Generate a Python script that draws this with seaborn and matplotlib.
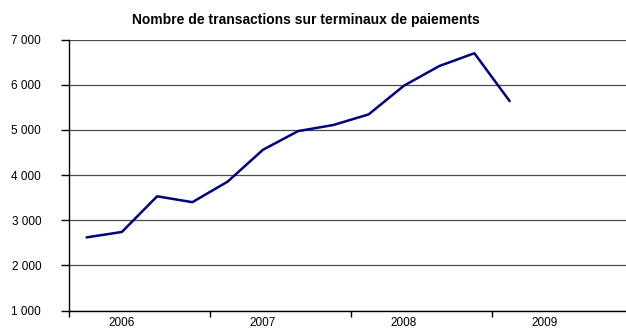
import matplotlib
matplotlib.use("Agg")
import matplotlib.pyplot as plt
import matplotlib.ticker as mticker
import seaborn as sns
import pandas as pd

# Quarterly number of card terminal transactions
years = ["2006", "2007", "2008", "2009"]
quarters = ["T1 2006", "T2 2006", "T3 2006", "T4 2006",
            "T1 2007", "T2 2007", "T3 2007", "T4 2007",
            "T1 2008", "T2 2008", "T3 2008", "T4 2008",
            "T1 2009"]
transactions = [2620, 2740, 3530, 3400,
                3855, 4560, 4975, 5110,
                5345, 5980, 6415, 6700,
                5640]

df = pd.DataFrame({"pos": range(len(quarters)),
                   "trimestre": quarters,
                   "transactions": transactions})

sns.set_theme(style="white")
plt.rcParams["font.family"] = ["Liberation Sans", "DejaVu Sans"]

fig = plt.figure(figsize=(6.26, 3.31), dpi=100)
ax = fig.add_axes([69 / 626, 20.5 / 331, 564 / 626, 270.8 / 331])

sns.lineplot(data=df, x="pos", y="transactions", ax=ax,
             color="#000080", linewidth=1.8)

ax.set_ylim(1000, 7000)
ax.set_xlim(-0.5, 4 * len(years) - 0.5)

ax.yaxis.set_major_locator(mticker.MultipleLocator(1000))
ax.yaxis.set_major_formatter(
    mticker.FuncFormatter(lambda v, _: f"{int(v):,}".replace(",", " ")))
ax.grid(axis="y", color="#4a4a4a", linewidth=0.9)
ax.set_axisbelow(True)

# year separators as major ticks, year names as minor ticks
ax.set_xticks([4 * i - 0.5 for i in range(len(years) + 1)])
ax.set_xticklabels([""] * (len(years) + 1))
ax.set_xticks([4 * i + 1 for i in range(len(years))], minor=True)
ax.set_xticklabels(years, minor=True)
ax.tick_params(axis="x", which="major", direction="out", length=4,
               width=1, color="black", bottom=True)
ax.tick_params(axis="x", which="minor", length=0, pad=5,
               labelsize=8.5, labelcolor="black")
ax.tick_params(axis="y", direction="out", length=6, width=1,
               color="black", left=True, pad=14, labelsize=8.5,
               labelcolor="black")

for side in ("top", "right"):
    ax.spines[side].set_visible(False)
for side in ("left", "bottom"):
    ax.spines[side].set_color("black")
    ax.spines[side].set_linewidth(1)

ax.set_xlabel("")
ax.set_ylabel("")

fig.text(306 / 626, 1 - 20 / 331,
         "Nombre de transactions sur terminaux de paiements",
         ha="center", va="center", fontsize=10, fontweight="bold",
         color="black")

fig.savefig("out.png", dpi=100)
